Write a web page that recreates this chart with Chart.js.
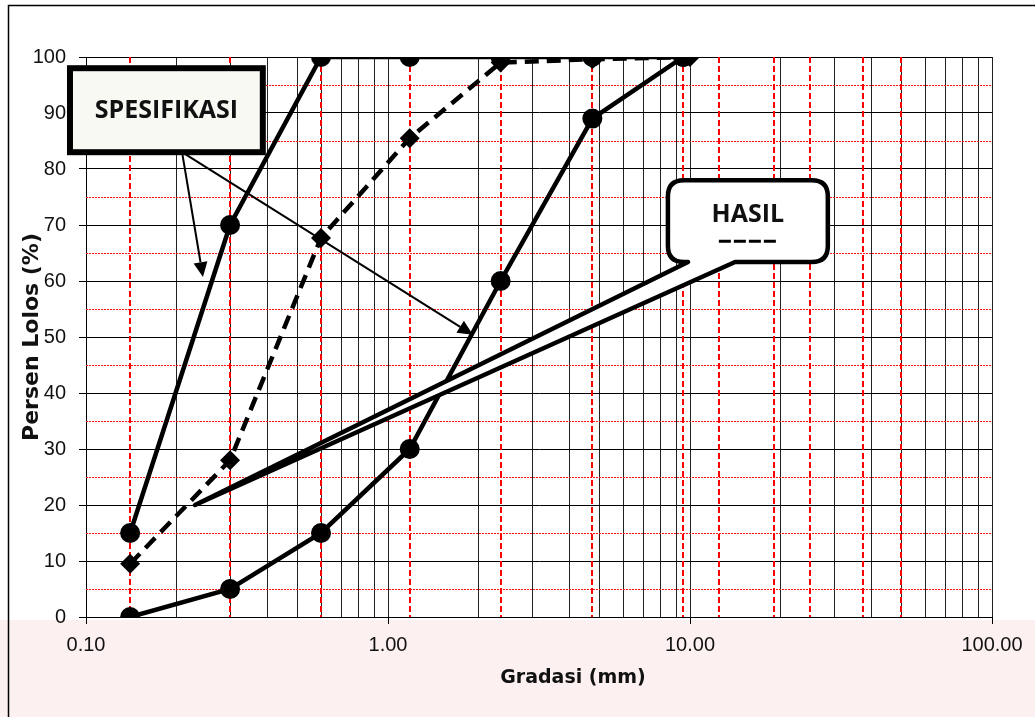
<!DOCTYPE html>
<html>
<head>
<meta charset="utf-8">
<script src="https://cdn.jsdelivr.net/npm/chart.js@4"></script>
<style>
  body { margin: 0; background: #fff; }
  canvas { display: block; }
</style>
</head>
<body>
<canvas id="gradasi" width="1035" height="717"></canvas>
<script>
// sieve sizes (mm) and percent passing
const sieveSizes = [0.14, 0.3, 0.6, 1.18, 2.36, 4.75, 9.5];
const specUpper = [15, 70, 100, 100, 100, 100, 100];
const specLower = [0, 5, 15, 30, 60, 89, 100];
const hasilSizes = [0.14, 0.3, 0.6, 1.18, 2.36, 4.75, 10];
const hasil = [9.5, 28, 67.7, 85.5, 99, 99.6, 100];

// red reference lines
const redSieveLines = [0.14, 0.3, 0.6, 1.18, 2.36, 4.75, 9.5, 12.5, 19, 25, 37.5, 50];
const redMidLines = [5, 15, 25, 35, 45, 55, 65, 75, 85, 95];

// axis ticks
const xMajor = [0.1, 1, 10, 100];
const xTickLabels = ["0.10", "1.00", "10.00", "100.00"];
const yTicks = [0, 10, 20, 30, 40, 50, 60, 70, 80, 90, 100];

// annotation anchors in data units (x mm, y %)
const specBox = { x1: 0.0885, x2: 0.385, y1: 98, y2: 83, text: "SPESIFIKASI" };
const specArrows = { from: [0.208, 83], to: [[0.244, 60.7], [1.91, 50.4]] };
const hasilBox = { x1: 8.45, x2: 28.6, y1: 78, y2: 63.4, tailL: 9.85, tailR: 14.1, tip: [0.2296, 20], text: "HASIL" };

function pts(xs, ys) {
    return xs.map((x, i) => ({ x: x, y: ys[i] }));
}

// build log grid: 1..9 x each decade
function logGrid() {
    const out = [];
    for (let d = 0; d < xMajor.length - 1; d++) {
        for (let m = 1; m < 10; m++) out.push(+(xMajor[d] * m).toPrecision(6));
    }
    out.push(xMajor[xMajor.length - 1]);
    return out;
}

function arrow(ctx, x1, y1, x2, y2) {
    const a = Math.atan2(y2 - y1, x2 - x1);
    const len = 15, hw = 7;
    const bx = x2 - Math.cos(a) * len, by = y2 - Math.sin(a) * len;
    ctx.beginPath();
    ctx.moveTo(x1, y1);
    ctx.lineTo(bx, by);
    ctx.stroke();
    ctx.beginPath();
    ctx.moveTo(x2, y2);
    ctx.lineTo(bx + Math.sin(a) * hw, by - Math.cos(a) * hw);
    ctx.lineTo(bx - Math.sin(a) * hw, by + Math.cos(a) * hw);
    ctx.closePath();
    ctx.fill();
}

const backdrop = {
    id: "backdrop",
    beforeDraw(chart) {
        const ctx = chart.ctx;
        ctx.save();
        ctx.fillStyle = "#fff";
        ctx.fillRect(0, 0, chart.width, chart.height);
        ctx.fillStyle = "#fcf0f0";
        ctx.fillRect(0, chart.chartArea.bottom + 3, chart.width, chart.height);
        ctx.restore();
    },
    afterDraw(chart) {
        const ctx = chart.ctx;
        ctx.save();
        ctx.strokeStyle = "#000";
        ctx.lineWidth = 1.5;
        ctx.strokeRect(8.5, 5.5, chart.width + 20, chart.height + 20);
        ctx.restore();
    }
};

const redLines = {
    id: "redLines",
    beforeDatasetsDraw(chart) {
        const { ctx, chartArea, scales } = chart;
        ctx.save();
        ctx.strokeStyle = "#ff1010";
        ctx.lineWidth = 1;
        ctx.setLineDash([2, 1]);
        redMidLines.forEach(v => {
            const y = Math.round(scales.y.getPixelForValue(v)) + 0.5;
            ctx.beginPath();
            ctx.moveTo(chartArea.left, y);
            ctx.lineTo(chartArea.right, y);
            ctx.stroke();
        });
        ctx.lineWidth = 2;
        ctx.strokeStyle = "#ff0000";
        ctx.setLineDash([6, 3]);
        redSieveLines.forEach(v => {
            const x = Math.round(scales.x.getPixelForValue(v));
            ctx.beginPath();
            ctx.moveTo(x, scales.y.getPixelForValue(100));
            ctx.lineTo(x, scales.y.getPixelForValue(0));
            ctx.stroke();
        });
        ctx.restore();
    }
};

const notes = {
    id: "notes",
    afterDatasetsDraw(chart) {
        const { ctx, scales } = chart;
        const px = v => scales.x.getPixelForValue(v);
        const py = v => scales.y.getPixelForValue(v);
        ctx.save();

        // arrows from spec box
        ctx.strokeStyle = "#000";
        ctx.fillStyle = "#000";
        ctx.lineWidth = 2;
        const sx = px(specArrows.from[0]), sy = py(specArrows.from[1]);
        specArrows.to.forEach(t => arrow(ctx, sx, sy, px(t[0]), py(t[1])));

        // SPESIFIKASI box
        const bx1 = px(specBox.x1), bx2 = px(specBox.x2), by1 = py(specBox.y1), by2 = py(specBox.y2);
        ctx.fillStyle = "#f9f9f4";
        ctx.fillRect(bx1, by1, bx2 - bx1, by2 - by1);
        ctx.lineWidth = 6;
        ctx.strokeRect(bx1, by1, bx2 - bx1, by2 - by1);
        ctx.fillStyle = "#111";
        ctx.font = "bold 25px 'Open Sans'";
        ctx.textAlign = "center";
        ctx.textBaseline = "middle";
        ctx.fillText(specBox.text, (bx1 + bx2) / 2, (by1 + by2) / 2 + 1);

        // HASIL callout
        const hx1 = px(hasilBox.x1), hx2 = px(hasilBox.x2), hy1 = py(hasilBox.y1), hy2 = py(hasilBox.y2);
        const r = 16;
        ctx.beginPath();
        ctx.moveTo(hx1 + r, hy1);
        ctx.lineTo(hx2 - r, hy1);
        ctx.quadraticCurveTo(hx2, hy1, hx2, hy1 + r);
        ctx.lineTo(hx2, hy2 - r);
        ctx.quadraticCurveTo(hx2, hy2, hx2 - r, hy2);
        ctx.lineTo(px(hasilBox.tailR), hy2);
        ctx.lineTo(px(hasilBox.tip[0]), py(hasilBox.tip[1]));
        ctx.lineTo(px(hasilBox.tailL), hy2);
        ctx.lineTo(hx1 + r, hy2);
        ctx.quadraticCurveTo(hx1, hy2, hx1, hy2 - r);
        ctx.lineTo(hx1, hy1 + r);
        ctx.quadraticCurveTo(hx1, hy1, hx1 + r, hy1);
        ctx.closePath();
        ctx.fillStyle = "#fff";
        ctx.fill();
        ctx.lineWidth = 4.5;
        ctx.lineJoin = "round";
        ctx.stroke();
        ctx.fillStyle = "#111";
        ctx.fillText(hasilBox.text, (hx1 + hx2) / 2, hy1 + 35);
        // dashed line sample under HASIL
        ctx.lineWidth = 3;
        ctx.setLineDash([12, 3]);
        ctx.beginPath();
        ctx.moveTo((hx1 + hx2) / 2 - 29, hy1 + 61);
        ctx.lineTo((hx1 + hx2) / 2 + 29, hy1 + 61);
        ctx.stroke();
        ctx.restore();
    }
};

const axisTitles = {
    id: "axisTitles",
    afterDraw(chart) {
        const { ctx, chartArea } = chart;
        ctx.save();
        ctx.fillStyle = "#111";
        ctx.textAlign = "center";
        ctx.textBaseline = "alphabetic";
        ctx.font = "bold 19px 'DejaVu Sans'";
        ctx.fillText("Gradasi (mm)", (chartArea.left + chartArea.right) / 2 + 34, chartArea.bottom + 66);
        ctx.translate(38, (chartArea.top + chartArea.bottom) / 2);
        ctx.rotate(-Math.PI / 2);
        ctx.font = "bold 22px 'DejaVu Sans'";
        ctx.fillText("Persen Lolos (%)", 0, 0);
        ctx.restore();
    }
};

function lineSet(label, xs, ys, style, dash) {
    return {
        label: label,
        data: pts(xs, ys),
        showLine: true,
        borderColor: "#000",
        backgroundColor: "#000",
        borderWidth: 4.5,
        borderDash: dash,
        pointStyle: style,
        pointRadius: 10,
        pointBorderWidth: 0,
        tension: 0
    };
}

new Chart(document.getElementById("gradasi"), {
    type: "scatter",
    data: {
        datasets: [
            lineSet("Batas Atas", sieveSizes, specUpper, "circle", []),
            lineSet("Batas Bawah", sieveSizes, specLower, "circle", []),
            lineSet("Hasil", hasilSizes, hasil, "rectRot", [14, 8])
        ]
    },
    options: {
        responsive: false,
        animation: false,
        devicePixelRatio: 1,
        layout: { padding: { left: 0, top: 57, right: 43, bottom: 0 } },
        plugins: {
            legend: { display: false },
            tooltip: { enabled: false }
        },
        scales: {
            x: {
                type: "logarithmic",
                min: 0.1,
                max: 100,
                afterBuildTicks: s => { s.ticks = logGrid().map(v => ({ value: v, major: xMajor.includes(v) })); },
                afterFit: s => { s.height = 100; },
                ticks: {
                    autoSkip: false,
                    maxRotation: 0,
                    padding: 9,
                    color: "#111",
                    font: { family: "'Liberation Sans', Arial", size: 20 },
                    callback: value => {
                        const i = xMajor.findIndex(m => Math.abs(m - value) < 1e-9);
                        return i >= 0 ? xTickLabels[i] : "";
                    }
                },
                grid: {
                    color: "#222",
                    lineWidth: 1,
                    tickLength: 7,
                    tickColor: c => (c.tick && xMajor.includes(c.tick.value)) ? "#000" : "rgba(0,0,0,0)"
                },
                border: { color: "#000", width: 1 }
            },
            y: {
                min: 0,
                max: 100,
                afterBuildTicks: s => { s.ticks = yTicks.map(v => ({ value: v })); },
                afterFit: s => { s.width = 86; },
                ticks: {
                    padding: 13,
                    color: "#111",
                    font: { family: "'Liberation Sans', Arial", size: 20 }
                },
                grid: { color: "#000", lineWidth: 1, tickLength: 7, tickColor: "#000" },
                border: { color: "#000", width: 1 }
            }
        }
    },
    plugins: [backdrop, redLines, notes, axisTitles]
});
</script>
</body>
</html>
